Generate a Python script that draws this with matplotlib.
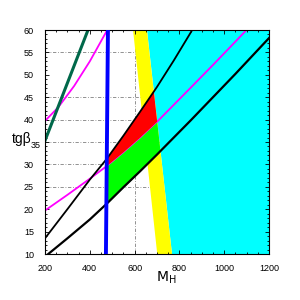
import matplotlib
matplotlib.use("Agg")
import matplotlib.pyplot as plt
from matplotlib.patches import Polygon
from matplotlib.ticker import AutoMinorLocator
from matplotlib.transforms import ScaledTranslation

# shared M_H sample points for the three long curves
m_grid = [200, 300, 400, 475, 550, 625, 700, 775, 850, 950, 1050, 1200]
upper_black = [13.5, 20.0, 26.6, 31.2, 36.4, 41.8, 47.3, 53.2, 59.4, 68.0, 76.0, 88.0]
lower_magenta = [19.7, 23.2, 26.8, 29.6, 32.7, 36.0, 39.5, 43.3, 47.1, 52.2, 57.4, 65.3]
lower_black = [9.4, 13.5, 17.7, 21.2, 24.9, 28.5, 32.2, 36.0, 39.8, 45.0, 50.2, 58.2]

# upper magenta curve and dark green line
um_m = [200, 260, 330, 400, 478]
um_tb = [39.7, 42.8, 47.5, 53.0, 60.0]
dg_m = [200, 392]
dg_tb = [35.3, 60.0]

# blue vertical limit (M_H at tgb=10 and tgb=60)
blue_m = [472, 481]
edge_tb = [10, 60]
# yellow band edges and cyan boundary (M_H at tgb=10 and tgb=60)
yellow_left = [701, 593]
cyan_left = [767, 655]

x_ticks = [200, 400, 600, 800, 1000, 1200]
y_ticks = [10, 15, 20, 25, 30, 35, 40, 45, 50, 55, 60]
grid_y = [25, 30, 35, 40, 45, 55]
grid_x = [600, 800, 1000]


def main():
    plt.rcParams["font.family"] = ["Liberation Sans", "DejaVu Sans"]
    fig = plt.figure(figsize=(3, 3), dpi=100)
    ax = fig.add_axes([45 / 300, 46 / 300, 224 / 300, 224 / 300])

    for g in grid_y:
        ax.axhline(g, color="#808080", lw=0.6, ls=(0, (4, 2, 1, 2)), zorder=0.5)
    for g in grid_x:
        ax.axvline(g, color="#808080", lw=0.6, ls=(0, (4, 2, 1, 2)), zorder=0.5)

    # cyan excluded region and yellow band
    ax.fill([cyan_left[0], 1200, 1200, cyan_left[1]], [10, 10, 60, 60],
            color="#00ffff", lw=0, zorder=1)
    ax.fill([yellow_left[0], cyan_left[0], cyan_left[1], yellow_left[1]],
            [10, 10, 60, 60], color="#ffff00", lw=0, zorder=1)

    ax.plot(m_grid, lower_magenta, color="#ff00ff", lw=1.3, zorder=2)
    ax.plot(um_m, um_tb, color="#ff00ff", lw=1.3, zorder=2)
    ax.plot(dg_m, dg_tb, color="#00684a", lw=2.2, zorder=2)

    clip = Polygon([(blue_m[0], edge_tb[0]), (cyan_left[0], edge_tb[0]),
                    (cyan_left[1], edge_tb[1]), (blue_m[1], edge_tb[1])],
                   closed=True, transform=ax.transData, fill=False, lw=0)
    ax.add_patch(clip)
    red = ax.fill_between(m_grid, lower_magenta, upper_black, color="#ff0000",
                          lw=0, zorder=3)
    green = ax.fill_between(m_grid, lower_black, lower_magenta, color="#00ff00",
                            lw=0, zorder=3)
    red.set_clip_path(clip)
    green.set_clip_path(clip)

    ax.plot(m_grid, upper_black, color="black", lw=1.3, zorder=4)
    ax.plot(m_grid, lower_black, color="black", lw=1.6, zorder=4)
    ax.plot(blue_m, edge_tb, color="#0000ff", lw=2.8, zorder=5)

    ax.set_xlim(200, 1200)
    ax.set_ylim(10, 60)
    ax.set_xticks(x_ticks)
    ax.set_yticks(y_ticks)
    ax.xaxis.set_minor_locator(AutoMinorLocator(4))
    ax.yaxis.set_minor_locator(AutoMinorLocator(5))
    ax.tick_params(which="both", direction="in", top=True, right=True,
                   labelsize=6.5, width=0.6)
    ax.tick_params(which="major", length=3)
    ax.tick_params(which="minor", length=1.5)
    ax.tick_params(axis="y", pad=8)
    ax.tick_params(axis="x", pad=7)
    for s in ax.spines.values():
        s.set_linewidth(0.8)

    # the "35" label sits right against the axis, just after tgβ
    for lab in ax.get_yticklabels():
        if lab.get_text() == "35":
            lab.set_transform(lab.get_transform()
                              + ScaledTranslation(7 / 100, -3 / 100, fig.dpi_scale_trans))

    fig.text(12 / 300, 1 - 139 / 300, "tg\u03b2", fontsize=10, ha="left", va="center")
    fig.text(156 / 300, 1 - 282 / 300, r"$\mathrm{M_H}$", fontsize=10,
             ha="left", va="baseline")

    fig.savefig("out.png", dpi=100)


if __name__ == "__main__":
    main()
